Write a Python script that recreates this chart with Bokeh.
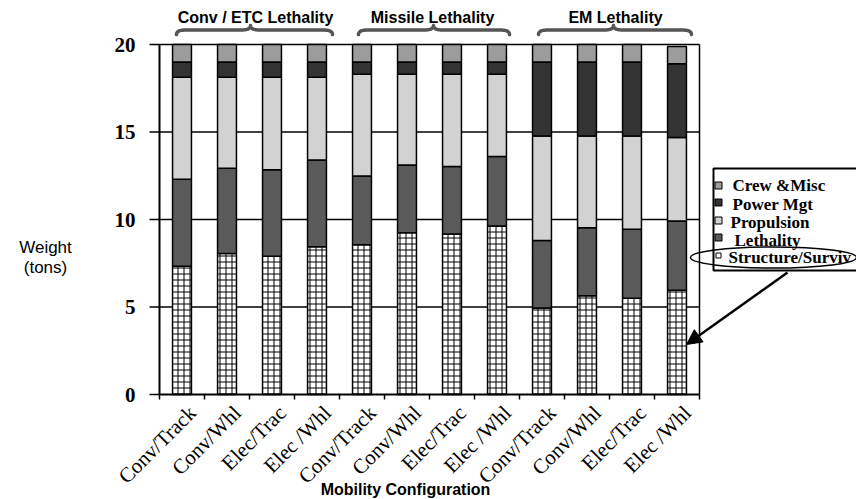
import numpy as np
from bokeh.plotting import figure
from bokeh.models import Range1d, Label, Arrow, NormalHead
from bokeh.embed import file_html
from bokeh.resources import INLINE
from bokeh.core.properties import value

# ---------------- data ----------------
configs = ["Conv/Track", "Conv/Whl", "Elec/Trac", "Elec /Whl",
           "Conv/Track", "Conv/Whl", "Elec/Trac", "Elec /Whl",
           "Conv/Track", "Conv/Whl", "Elec/Trac", "Elec /Whl"]
groups = ["Conv / ETC Lethality", "Missile Lethality", "EM Lethality"]
series_names = ["Structure/Surviv", "Lethality", "Propulsion", "Power Mgt", "Crew &Misc"]
structure = [7.33, 8.06, 7.90, 8.44, 8.56, 9.25, 9.17, 9.63, 4.95, 5.65, 5.50, 5.96]
lethality = [4.97, 4.87, 4.94, 4.96, 3.93, 3.87, 3.86, 3.97, 3.85, 3.88, 3.94, 3.95]
propulsion = [5.83, 5.20, 5.29, 4.73, 5.81, 5.18, 5.27, 4.70, 5.97, 5.24, 5.33, 4.78]
power_mgt = [0.87, 0.87, 0.87, 0.87, 0.70, 0.70, 0.70, 0.70, 4.23, 4.23, 4.23, 4.21]
crew_misc = [1.00, 1.00, 1.00, 1.00, 1.00, 1.00, 1.00, 1.00, 1.00, 1.00, 1.00, 0.98]
y_ticks = [0, 5, 10, 15, 20]
y_tick_labels = ["0", "5", "10", "15", "20"]

colors = ["white", "#5a5a5a", "#d2d2d2", "#333333", "#9c9c9c"]

# ---------------- figure ----------------
XU = 45.0    # px per category
YU = 17.5    # px per ton
W, H = 856, 499
X0, Y0 = 159, 394          # pixel column of x = 0, pixel row of y = 0
p = figure(width=W, height=H, output_backend="svg", toolbar_location=None,
           x_axis_location=None, y_axis_location=None,
           x_range=Range1d(-X0 / XU, (W - X0) / XU), y_range=Range1d(-(H - Y0) / YU, Y0 / YU),
           min_border_left=0, min_border_right=0, min_border_top=0, min_border_bottom=0)
p.outline_line_color = None
p.xgrid.visible = False
p.ygrid.visible = False
p.background_fill_color = "white"
p.border_fill_color = "white"

def px_x(px):
    return (px - X0) / XU

def px_y(py):
    return (Y0 - py) / YU

n = len(configs)
xc = np.arange(n) + 0.5
ny = len(y_ticks)

# gridlines and right border of plot box
p.segment(x0=[0] * (ny - 1), x1=[n] * (ny - 1),
          y0=y_ticks[1:], y1=y_ticks[1:], line_color="black", line_width=1.5)
p.segment(x0=[n], y0=[0], x1=[n], y1=[y_ticks[-1]], line_color="black", line_width=1.5)

# stacked bars
series = [structure, lethality, propulsion, power_mgt, crew_misc]
bottom = np.zeros(n)
for i, s in enumerate(series):
    top = bottom + np.array(s)
    kw = {}
    if i == 0:
        kw = dict(hatch_pattern="+", hatch_scale=6, hatch_color="black", hatch_weight=1)
    p.vbar(x=xc, width=0.42, bottom=bottom, top=top, fill_color=colors[i],
           line_color="black", line_width=1.5, **kw)
    bottom = top

# value axis (left): line, outward ticks, bold serif labels
p.segment(x0=[0], y0=[0], x1=[0], y1=[y_ticks[-1]], line_color="black", line_width=2)
p.segment(x0=np.zeros(ny), y0=y_ticks, x1=np.full(ny, -10 / XU), y1=y_ticks,
          line_color="black", line_width=1.5)
p.text(x=np.full(ny, -24 / XU), y=y_ticks, text=y_tick_labels, text_align="right",
       text_baseline="middle", text_font=value("Liberation Serif"), text_font_style="bold",
       text_font_size="21px", text_color="black")
p.add_layout(Label(x=px_x(45), y=px_y(257), text="Weight\n(tons)", text_align="center",
                   text_baseline="middle", text_font="Liberation Sans",
                   text_font_size="17px", text_color="black", text_line_height=1.05))

# category axis along y = 0 (baseline, boundary ticks, slanted labels)
p.segment(x0=[0], y0=[0], x1=[n], y1=[0], line_color="black", line_width=2)
bounds_x = np.arange(n + 1)
p.segment(x0=bounds_x, y0=np.zeros(n + 1), x1=bounds_x, y1=np.full(n + 1, -5 / YU),
          line_color="black", line_width=1.5)
p.text(x=xc + 0.23, y=np.full(n, -15 / YU), text=configs, angle=np.pi / 4,
       text_align="right", text_baseline="middle", text_font=value("Liberation Serif"),
       text_font_size="21px", text_color="black")
p.add_layout(Label(x=px_x(405), y=px_y(489), text="Mobility Configuration", text_align="center",
                   text_baseline="middle", text_font="Liberation Sans",
                   text_font_style="bold", text_font_size="16px", text_color="black"))

# group labels and braces
group_lab_x = [255, 432, 615]
brace_spans = [(176, 250, 332), (358, 433, 509), (538, 613, 691)]

def qbez(p0, c, p1, m=12):
    t = np.linspace(0, 1, m)
    x = (1 - t) ** 2 * p0[0] + 2 * (1 - t) * t * c[0] + t ** 2 * p1[0]
    y = (1 - t) ** 2 * p0[1] + 2 * (1 - t) * t * c[1] + t ** 2 * p1[1]
    return list(x), list(y)

for g, (xl, xm, xr) in enumerate(brace_spans):
    p.add_layout(Label(x=px_x(group_lab_x[g]), y=px_y(17), text=groups[g], text_align="center",
                       text_baseline="middle", text_font="Liberation Sans",
                       text_font_style="bold", text_font_size="16px", text_color="black"))
    ye, ym, yp = px_y(34), px_y(29.5), px_y(25)
    L, M, R = px_x(xl), px_x(xm), px_x(xr)
    r = 9 / XU
    xs, ys = [], []
    a = qbez((L, ye), (L, ym), (L + r, ym)); xs += a[0]; ys += a[1]
    a = qbez((M - r, ym), (M, ym), (M, yp)); xs += a[0]; ys += a[1]
    a = qbez((M, yp), (M, ym), (M + r, ym)); xs += a[0]; ys += a[1]
    a = qbez((R - r, ym), (R, ym), (R, ye)); xs += a[0]; ys += a[1]
    p.line(xs, ys, line_color="#555555", line_width=3.5, line_join="round", line_cap="round")

# legend box (right side cut by page edge)
lx0, lx1, ly0, ly1 = px_x(713), px_x(870), px_y(270), px_y(168)
p.line([lx1, lx0, lx0, lx1], [ly1, ly1, ly0, ly0], line_color="black", line_width=2)

leg_order = [4, 3, 2, 1, 0]
leg_sq_y = [185, 202, 220, 237, 255]
leg_tx_y = [185, 204, 222, 240, 257]
leg_tx_x = [732, 732, 730, 734, 728]
for k, si in enumerate(leg_order):
    p.scatter(x=[px_x(718)], y=[px_y(leg_sq_y[k])], marker="square",
              size=7 if si != 0 else 5, fill_color=colors[si], line_color="black", line_width=1)
    p.add_layout(Label(x=px_x(leg_tx_x[k]), y=px_y(leg_tx_y[k]), text=series_names[si],
                       text_align="left", text_baseline="middle",
                       text_font="Liberation Serif", text_font_style="bold",
                       text_font_size="17px", text_color="black"))

# ellipse highlighting Structure/Surviv and arrow to bar
p.ellipse(x=[px_x(773)], y=[px_y(257)], width=166 / XU, height=21 / YU,
          fill_color=None, line_color="black", line_width=1.5)
p.add_layout(Arrow(end=NormalHead(size=15, fill_color="black", line_color="black"),
                   x_start=px_x(787), y_start=px_y(272), x_end=px_x(686), y_end=px_y(344),
                   line_color="black", line_width=2.5))

open("out.html", "w").write(file_html(p, INLINE))
